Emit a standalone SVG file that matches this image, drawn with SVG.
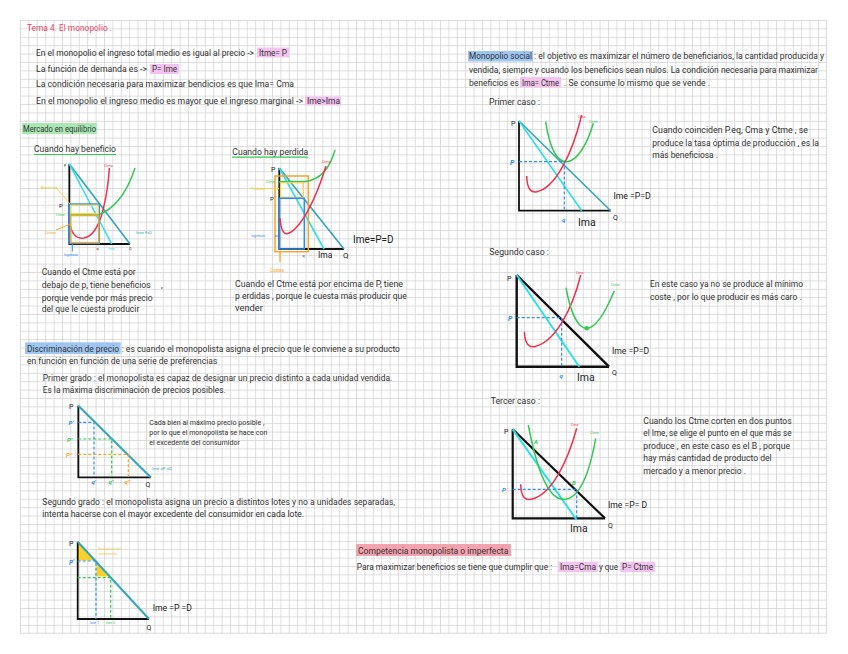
<svg xmlns="http://www.w3.org/2000/svg" width="848" height="654" viewBox="0 0 848 654">
<defs>
<pattern id="grid" x="20" y="20" width="8.4" height="8.4" patternUnits="userSpaceOnUse">
<path d="M0,0.4 H8.4 M0.4,0 V8.4" stroke="#d3d3d3" stroke-width="0.8" fill="none"/>
</pattern>
<style>
.t{font-family:Roboto,"Liberation Sans",sans-serif;font-size:8.6px;fill:#333}
.ts{font-family:Roboto,"Liberation Sans",sans-serif;font-size:6.6px;fill:#333}
.tiny{font-family:Roboto,"Liberation Sans",sans-serif;font-size:3.6px}
.lbl{font-family:Roboto,"Liberation Sans",sans-serif;font-size:7px;fill:#222}
.hw{font-family:Roboto,"Liberation Sans",sans-serif;font-size:7px;font-weight:bold;font-style:italic}
.hp{fill:#f3c4f0}
.hb{fill:#9fc6f2}
.ax{fill:none;stroke:#111;stroke-width:1.8}
.dem{fill:none;stroke:#33a6b8;stroke-width:1.6}
.ima{fill:none;stroke:#2ee0e6;stroke-width:1.6}
.red{fill:none;stroke:#f2304c;stroke-width:1.5}
.grn{fill:none;stroke:#33c852;stroke-width:1.5}
.dash{fill:none;stroke-width:1.2;stroke-dasharray:3 2}
</style>
</defs>
<rect x="0" y="0" width="848" height="654" fill="#fff"/>
<rect x="20" y="20" width="806.4" height="613.2" fill="url(#grid)"/>
<path d="M826.4,20 V633.2 M20,633.2 H826.4" stroke="#d3d3d3" stroke-width="0.8"/>

<g id="intro">
<text x="27" y="31" class="t" style="fill:#ee4466" textLength="85" lengthAdjust="spacingAndGlyphs">Tema 4. El monopolio .</text>
<rect class="hp" x="257" y="47.5" width="32" height="10"/>
<text x="36" y="55.5" class="t" textLength="218" lengthAdjust="spacingAndGlyphs">En el monopolio el ingreso total medio es igual al precio -&gt;</text>
<text x="259" y="55.5" class="t" textLength="28" lengthAdjust="spacingAndGlyphs">Itme= P</text>
<rect class="hp" x="150" y="64" width="29" height="10"/>
<text x="36" y="72.3" class="t" textLength="111" lengthAdjust="spacingAndGlyphs">La función de demanda es  -&gt;</text>
<text x="152" y="72.3" class="t" textLength="25" lengthAdjust="spacingAndGlyphs">P= Ime</text>
<text x="36" y="87.3" class="t" textLength="258" lengthAdjust="spacingAndGlyphs">La condición necesaria para maximizar bendicios es que Ima= Cma</text>
<rect class="hp" x="305" y="96.5" width="36" height="9"/>
<text x="36" y="103.7" class="t" textLength="267" lengthAdjust="spacingAndGlyphs">En el monopolio el ingreso medio es mayor que el ingreso  marginal   -&gt;</text>
<text x="307" y="103.7" class="t" textLength="33" lengthAdjust="spacingAndGlyphs">Ime&gt;Ima</text>
</g>

<g id="monopolio-social">
<rect class="hb" x="468" y="51" width="65" height="10.5"/>
<text x="469" y="59.3" class="t" textLength="63" lengthAdjust="spacingAndGlyphs">Monopolio social</text>
<text x="534" y="59.3" class="t" textLength="290" lengthAdjust="spacingAndGlyphs">: el objetivo es maximizar el número de beneficiarios, la cantidad producida y</text>
<text x="469" y="72.7" class="t" textLength="349" lengthAdjust="spacingAndGlyphs">vendida, siempre y cuando los beneficios sean nulos. La condición necesaria para maximizar</text>
<rect class="hp" x="520" y="77" width="41" height="10.5"/>
<text x="469" y="85.7" class="t" textLength="50" lengthAdjust="spacingAndGlyphs">beneficios es</text>
<text x="522" y="85.7" class="t" textLength="37" lengthAdjust="spacingAndGlyphs">Ima= Ctme</text>
<text x="564" y="85.7" class="t" textLength="146" lengthAdjust="spacingAndGlyphs">.  Se consume lo mismo que se vende .</text>
<text x="489" y="104.7" class="t" textLength="51" lengthAdjust="spacingAndGlyphs">Primer caso :</text>
</g>

<g id="mercado-equilibrio">
<rect x="22" y="123" width="75" height="11" fill="#a9e7b3"/>
<text x="23" y="132" class="t" textLength="73" lengthAdjust="spacingAndGlyphs">Mercado en equilibrio</text>
</g>

<g id="cuando-hay-beneficio">
<text x="34" y="152.3" class="t" textLength="82" lengthAdjust="spacingAndGlyphs">Cuando hay beneficio</text>
<path d="M34,154.5 H116" stroke="#33c852" stroke-width="1.2"/>
<path class="ax" d="M69.3,164 V244 H130"/>
<path class="dem" d="M69.3,164 L130,244"/>
<path class="ima" d="M69.3,164 L111.7,244"/>
<path class="red" d="M70,224 C72,236 77,239 84,238 C94,236 100,222 103,210 C106,198 108.5,185 109.3,168"/>
<path class="grn" d="M70.5,214.5 H99 C112,210 126,196 135,168"/>
<rect x="69.3" y="204" width="30" height="39.5" fill="none" stroke="#2f8cf0" stroke-width="1.4"/>
<rect x="70.8" y="205.4" width="27.5" height="8.4" fill="none" stroke="#f6d54a" stroke-width="1.3"/>
<rect x="70.8" y="215.6" width="28" height="27" fill="none" stroke="#f5a623" stroke-width="1.4"/>
<path d="M56,187.5 L70,204" stroke="#f6d54a" stroke-width="1"/>
<path d="M56,230 L70,224" stroke="#f5a623" stroke-width="1"/>
<path d="M72.3,243.5 V251.5" stroke="#2f8cf0" stroke-width="1"/>
<text x="64" y="167" class="tiny" fill="#222">P</text>
<text x="104" y="166.5" class="tiny" fill="#f2304c">Ctma</text>
<text x="41" y="188.5" class="tiny" fill="#f5c020">Beneficios</text>
<text x="59" y="207.5" class="lbl" fill="#2f8cf0" style="font-size:6px">P</text>
<text x="56" y="215.5" class="tiny" fill="#33c852">Ctme</text>
<text x="45" y="233.5" class="tiny" fill="#f5a623">Costes</text>
<text x="64" y="255.5" class="tiny" fill="#2f8cf0">Ingresos</text>
<text x="96.5" y="250" class="tiny" fill="#222">q</text>
<text x="108" y="250" class="tiny" fill="#2ee0e6">Ima</text>
<text x="129" y="250" class="tiny" fill="#222">Q</text>
<text x="136" y="233.5" class="tiny" fill="#33a6b8">Ime= P=D</text>
<text x="41.7" y="274.5" class="t" textLength="94" lengthAdjust="spacingAndGlyphs">Cuando el Ctme está por</text>
<text x="41.7" y="288" class="t" textLength="109" lengthAdjust="spacingAndGlyphs">debajo de p, tiene beneficios</text>
<text x="161" y="288" class="t">,</text>
<text x="41.7" y="301.3" class="t" textLength="111" lengthAdjust="spacingAndGlyphs">porque vende por más precio</text>
<text x="41.7" y="312.3" class="t" textLength="97.6" lengthAdjust="spacingAndGlyphs">del que le cuesta producir</text>
</g>

<g id="cuando-hay-perdida">
<text x="232.3" y="155" class="t" textLength="76" lengthAdjust="spacingAndGlyphs">Cuando hay perdida</text>
<path d="M232,157.2 H308" stroke="#33c852" stroke-width="1.2"/>
<path class="ax" d="M279.3,168 V249 H344"/>
<path class="dem" d="M279.3,168 L344,249"/>
<path class="ima" d="M279.3,168 L324,249"/>
<rect x="275" y="176" width="33.3" height="75.7" fill="none" stroke="#f5a623" stroke-width="1.5"/>
<path class="grn" d="M279,181.7 H305 C318,180 329,172 335,150"/>
<rect x="280.5" y="182.7" width="22.8" height="15" fill="none" stroke="#f6d54a" stroke-width="1.3"/>
<rect x="279.3" y="198.3" width="25" height="50.7" fill="none" stroke="#2f8cf0" stroke-width="1.5"/>
<path class="red" d="M280,218 C281,231 284,235 288,233.5 C300,229 315,202 326,166"/>
<path d="M262,188.5 H279" stroke="#f6d54a" stroke-width="1"/>
<path d="M275,236 H279.5" stroke="#2f8cf0" stroke-width="1"/>
<path d="M280,252 V262" stroke="#f5a623" stroke-width="1.3"/>
<text x="271" y="171.5" class="lbl">P</text>
<text x="322" y="163" class="tiny" fill="#f2304c">Ctma</text>
<text x="266" y="183" class="tiny" fill="#33c852">Ctme</text>
<text x="251" y="189.5" class="tiny" fill="#f5c020">Perdidas</text>
<text x="270" y="200.8" class="lbl" fill="#2f8cf0" style="font-size:6px">P</text>
<text x="251" y="237.3" class="tiny" fill="#2f8cf0">Ingresos</text>
<text x="302.5" y="257" class="tiny" fill="#222">q</text>
<text x="318" y="258" class="lbl" fill="#2ee0e6" style="font-size:8.5px">Ima</text>
<text x="343" y="258" class="lbl" style="font-size:8px">Q</text>
<text x="353" y="242.5" class="lbl" fill="#33a6b8" style="font-size:10px">Ime=P=D</text>
<text x="270" y="271.5" class="tiny" fill="#f5a623" style="font-size:4.5px">Costes</text>
<text x="235" y="287.3" class="t" textLength="168" lengthAdjust="spacingAndGlyphs">Cuando el Ctme está por encima de P, tiene</text>
<text x="235" y="299" class="t" textLength="171.7" lengthAdjust="spacingAndGlyphs">p erdidas , porque le cuesta más producir que</text>
<text x="235" y="311.3" class="t" textLength="28" lengthAdjust="spacingAndGlyphs">vender</text>
</g>

<g id="primer-caso">
<path class="ax" d="M519,121 V210.7 H610.7"/>
<path class="dem" d="M519,121 L610.7,210.7"/>
<path class="ima" d="M519,121 L581.7,210.7"/>
<path class="grn" d="M545.7,121.7 C549,145 556,162 566.7,161.7 C578,161 588,142 593.3,123.3"/>
<path class="red" d="M526.7,176 C527,189 531,193 537,191.7 C555,188 572,155 581.7,115"/>
<path class="dash" stroke="#2f8cf0" d="M519,161.7 H564.3 V210.7"/>
<text x="511" y="126" class="lbl">P</text>
<text x="578" y="117.5" class="tiny" fill="#f2304c">Cma</text>
<text x="589" y="122.5" class="tiny" fill="#33c852">Ctme</text>
<text x="510" y="165" class="hw" fill="#2f8cf0">P</text>
<text x="562" y="222" class="hw" fill="#2f8cf0" style="font-size:6px">q</text>
<text x="578" y="225.5" class="lbl" fill="#2ee0e6" style="font-size:10.5px">Ima</text>
<text x="613" y="220" class="lbl">Q</text>
<text x="613.5" y="199" class="lbl" fill="#33a6b8" style="font-size:8.6px">Ime =P=D</text>
<text x="652.3" y="133" class="t" textLength="155.7" lengthAdjust="spacingAndGlyphs">Cuando coinciden  P.eq, Cma y Ctme , se</text>
<text x="652.3" y="145.7" class="t" textLength="166.7" lengthAdjust="spacingAndGlyphs">produce la tasa óptima de producción , es la</text>
<text x="652.3" y="158" class="t" textLength="65.7" lengthAdjust="spacingAndGlyphs">más beneficiosa .</text>
</g>

<g id="segundo-caso">
<text x="489.3" y="255.3" class="t" textLength="59.7" lengthAdjust="spacingAndGlyphs">Segundo caso :</text>
<path class="ax" d="M516.7,275 V366.7 H609" style="stroke-width:2.4"/>
<path class="ax" d="M516.7,275 L609,366.7" style="stroke-width:2.4"/>
<path class="ima" d="M516.7,275 L579.3,366.7" style="stroke-width:2"/>
<path class="red" d="M524.3,331.7 C525,344 529,348 535,346.5 C555,342 572,310 580.7,275"/>
<path class="grn" d="M566,287.7 C570,310 577,328 586.7,328.3 C598,328 608,306 614.3,290.7"/>
<circle cx="586.7" cy="328.3" r="2.2" fill="#33c852"/>
<path class="dash" stroke="#2f8cf0" d="M516.7,317.7 H561.7 V366.7"/>
<text x="507" y="281" class="lbl">P</text>
<text x="576" y="274" class="tiny" fill="#f2304c">Cma</text>
<text x="611" y="286" class="tiny" fill="#33c852">Ctme</text>
<text x="508" y="321" class="hw" fill="#2f8cf0">P</text>
<text x="559.5" y="378" class="hw" fill="#2f8cf0" style="font-size:6px">q</text>
<text x="577" y="380.5" class="lbl" fill="#2ee0e6" style="font-size:10.5px">Ima</text>
<text x="612" y="375" class="lbl">Q</text>
<text x="612" y="354" class="lbl" fill="#33a6b8" style="font-size:8.6px">Ime =P=D</text>
<text x="650" y="287.3" class="t" textLength="153" lengthAdjust="spacingAndGlyphs">En este caso ya no se produce al mínimo</text>
<text x="650" y="299.7" class="t" textLength="151.7" lengthAdjust="spacingAndGlyphs">coste , por lo que producir es más caro .</text>
</g>

<g id="tercer-caso">
<text x="490.7" y="404" class="t" textLength="49.3" lengthAdjust="spacingAndGlyphs">Tercer caso :</text>
<path class="ax" d="M512.7,429.3 V518.3 H605" style="stroke-width:2.2"/>
<path class="ax" d="M512.7,429.3 L605,518.3" style="stroke-width:2.2"/>
<path class="ima" d="M512.7,429.3 L576.7,520" style="stroke-width:2"/>
<path class="red" d="M520.7,484.3 C521,497 525,500.5 531,499.3 C552,495 568,460 576.7,428.3"/>
<path class="grn" d="M528.3,425 C534,455 545,499 563.3,499.3 C580,499.5 590,470 595.7,438.3"/>
<path class="dash" stroke="#2f8cf0" d="M512.7,489.3 H576.7 V518"/>
<text x="504" y="434" class="lbl">P</text>
<text x="571" y="426" class="tiny" fill="#f2304c">Cma</text>
<text x="590" y="434" class="tiny" fill="#33c852">Ctme</text>
<text x="534" y="443.5" class="hw" fill="#33c852" style="font-size:6px">A</text>
<text x="572" y="484.5" class="hw" fill="#33c852" style="font-size:6px">B</text>
<text x="502" y="492" class="hw" fill="#2f8cf0" style="font-size:6px">P</text>
<text x="570" y="532" class="lbl" fill="#2ee0e6" style="font-size:10.5px">Ima</text>
<text x="608" y="528" class="lbl">Q</text>
<text x="608" y="507.5" class="lbl" fill="#33a6b8" style="font-size:8.6px">Ime =P= D</text>
<text x="643.3" y="424" class="t" textLength="148.4" lengthAdjust="spacingAndGlyphs">Cuando los Ctme corten en dos puntos</text>
<text x="643.3" y="436.3" class="t" textLength="148.4" lengthAdjust="spacingAndGlyphs">el Ime, se elige el punto en el que más se</text>
<text x="643.3" y="448.7" class="t" textLength="146.7" lengthAdjust="spacingAndGlyphs">produce , en este caso es el B , porque</text>
<text x="643.3" y="461.3" class="t" textLength="128.4" lengthAdjust="spacingAndGlyphs">hay más cantidad de producto del</text>
<text x="643.3" y="473.7" class="t" textLength="102.7" lengthAdjust="spacingAndGlyphs">mercado y a menor precio .</text>
</g>

<g id="discriminacion-precio">
<rect class="hb" x="25" y="342.3" width="95.7" height="11.7"/>
<text x="27" y="352" class="t" textLength="92" lengthAdjust="spacingAndGlyphs">Discriminación de precio</text>
<text x="121.7" y="352" class="t" textLength="278.3" lengthAdjust="spacingAndGlyphs">: es cuando el monopolista asigna el precio que le conviene a su producto</text>
<text x="27" y="364" class="t" textLength="190.3" lengthAdjust="spacingAndGlyphs">en función en función de una serie de preferencias</text>
<text x="42.7" y="380.7" class="t" textLength="349.6" lengthAdjust="spacingAndGlyphs">Primer grado : el monopolista es capaz de designar un precio distinto a cada unidad vendida.</text>
<text x="42.7" y="393" class="t" textLength="183" lengthAdjust="spacingAndGlyphs">Es la máxima discriminación de precios posibles.</text>
</g>

<g id="primer-grado">
<path class="ax" d="M78.3,405.7 V477.3 H150.7"/>
<path class="dem" d="M78.3,405.7 L150.7,477.3" style="stroke-width:2"/>
<path class="dash" stroke="#2f8cf0" d="M78.3,422.3 H94 V477"/>
<path class="dash" stroke="#33c852" d="M78.3,439 H111.7 V477"/>
<path class="dash" stroke="#f5a623" d="M78.3,454.3 H128.3 V477"/>
<text x="69" y="409" class="lbl">P</text>
<text x="68.5" y="425" class="hw" fill="#2f8cf0" style="font-size:6px">P'</text>
<text x="67" y="441.5" class="hw" fill="#33c852" style="font-size:6px">P''</text>
<text x="66" y="457" class="hw" fill="#f5a623" style="font-size:6px">P'''</text>
<text x="91.5" y="484" class="hw" fill="#2f8cf0" style="font-size:6px">q'</text>
<text x="108.5" y="484" class="hw" fill="#33c852" style="font-size:6px">q''</text>
<text x="124.5" y="484" class="hw" fill="#f5a623" style="font-size:6px">q'''</text>
<text x="145.5" y="487" class="lbl">Q</text>
<text x="152" y="470" class="tiny" fill="#33a6b8" style="font-size:4.4px">Ime =P =D</text>
<text x="149.3" y="424.5" class="ts" textLength="115" lengthAdjust="spacingAndGlyphs">Cada bien al máximo precio posible ,</text>
<text x="149.3" y="434.5" class="ts" textLength="118" lengthAdjust="spacingAndGlyphs">por lo que el monopolista se hace con</text>
<text x="149.3" y="444.5" class="ts" textLength="90.7" lengthAdjust="spacingAndGlyphs">el excedente del consumidor</text>
</g>

<g id="segundo-grado">
<text x="42.3" y="505.3" class="t" textLength="352.7" lengthAdjust="spacingAndGlyphs">Segundo grado : el monopolista asigna un precio a distintos lotes y  no a unidades separadas,</text>
<text x="42.3" y="517" class="t" textLength="261.7" lengthAdjust="spacingAndGlyphs">intenta hacerse con el mayor excedente del consumidor en cada lote.</text>
<path d="M77.7,541.7 L77.7,560.5 L95,560.5 Z" fill="#f8d22a"/>
<path d="M96.7,562.3 L96.7,576.5 L110,576.5 Z" fill="#f8d22a"/>
<path class="ax" d="M77.7,541.7 V619 H149"/>
<path class="dem" d="M77.7,541.7 L149,619" style="stroke-width:2"/>
<path class="dash" stroke="#2f8cf0" d="M77.7,561 H96 V619"/>
<path class="dash" stroke="#33c852" d="M77.7,577.7 H110.7 V619"/>
<text x="69" y="546" class="lbl">P</text>
<text x="69" y="564.5" class="hw" fill="#2f8cf0" style="font-size:6.5px">P'</text>
<text x="98.3" y="550" class="tiny" fill="#f5c542">Excedente del</text>
<text x="98.3" y="555" class="tiny" fill="#f5c542">consumidor</text>
<text x="90" y="624" class="tiny" fill="#2f8cf0">lote 1</text>
<text x="106" y="624" class="tiny" fill="#33c852">lote 2</text>
<text x="146.5" y="630" class="lbl">Q</text>
<text x="152.7" y="610.5" class="lbl" fill="#33a6b8" style="font-size:8.6px">Ime =P =D</text>
</g>

<g id="competencia-monopolista">
<rect x="356" y="544" width="155" height="12" fill="#f4a3ae"/>
<text x="358" y="553.7" class="t" textLength="150.3" lengthAdjust="spacingAndGlyphs">Competencia  monopolista o imperfecta</text>
<text x="356.7" y="569.7" class="t" textLength="195.6" lengthAdjust="spacingAndGlyphs">Para maximizar beneficios se tiene que cumplir que :</text>
<rect class="hp" x="558.3" y="561.7" width="39.4" height="10.5"/>
<text x="560" y="569.7" class="t" textLength="36" lengthAdjust="spacingAndGlyphs">Ima=Cma</text>
<text x="599" y="569.7" class="t" textLength="19" lengthAdjust="spacingAndGlyphs">y  que</text>
<rect class="hp" x="620" y="561.7" width="35" height="10.5"/>
<text x="622" y="569.7" class="t" textLength="31" lengthAdjust="spacingAndGlyphs">P= Ctme</text>
</g>
</svg>
